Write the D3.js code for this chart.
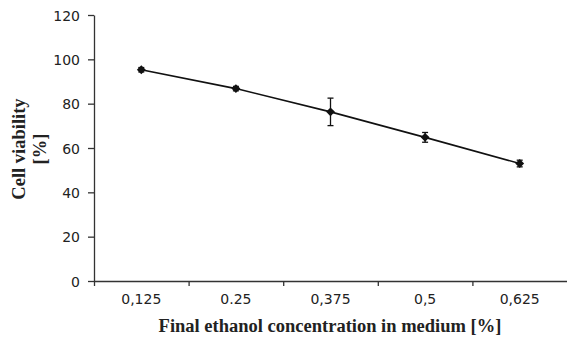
<!DOCTYPE html>
<html>
<head>
<meta charset="utf-8">
<script src="https://cdn.jsdelivr.net/npm/d3@7"></script>
<style>
  body { margin: 0; background: #fff; }
  svg { display: block; }
  .tick text { font-family: "DejaVu Sans", sans-serif; font-size: 14px; fill: #222; }
  .domain, .tick line { stroke: #333; stroke-width: 1.3; }
  .title { font-family: "Liberation Serif", "Times New Roman", serif; font-weight: bold; font-size: 18.5px; fill: #222; }
</style>
</head>
<body>
<div id="chart"></div>
<script>
// --- data ---
const concentrations = ["0,125", "0.25", "0,375", "0,5", "0,625"];
const viability = [95.3, 86.8, 76.3, 64.8, 53.0];
const errors = [1.0, 1.0, 6.2, 2.2, 1.5];
const yTicks = [0, 20, 40, 60, 80, 100, 120];

const W = 567, H = 340;
const margin = { left: 94, right: 0, top: 15, bottom: 59 };

const svg = d3.select("#chart").append("svg")
    .attr("width", W)
    .attr("height", H);

const x = d3.scaleBand()
    .domain(concentrations)
    .range([margin.left, W - margin.right]);

const y = d3.scaleLinear()
    .domain([0, 120])
    .range([H - margin.bottom, margin.top]);

// y axis
svg.append("g")
    .attr("transform", `translate(${margin.left},0)`)
    .call(d3.axisLeft(y).tickValues(yTicks).tickSize(6).tickSizeOuter(0).tickPadding(8))
    .selectAll(".tick text").attr("dy", "0.36em");

// x axis: boundary ticks between categories
const edges = d3.scaleLinear().domain([0, concentrations.length]).range(x.range());
svg.append("g")
    .attr("transform", `translate(0,${y(0)})`)
    .call(d3.axisBottom(edges).tickValues([0, 1, 2, 3, 4]).tickSize(5).tickSizeOuter(0).tickFormat(""));

// x labels
const xl = svg.append("g")
    .attr("transform", `translate(0,${y(0)})`)
    .call(d3.axisBottom(x).tickSize(0).tickPadding(13));
xl.select(".domain").remove();

// line
const line = d3.line()
    .x((d, i) => x(concentrations[i]) + x.bandwidth() / 2)
    .y(d => y(d));

svg.append("path")
    .datum(viability)
    .attr("fill", "none")
    .attr("stroke", "#111")
    .attr("stroke-width", 1.6)
    .attr("d", line);

// error bars
const eb = svg.append("g").attr("stroke", "#111").attr("stroke-width", 1.3);
viability.forEach((v, i) => {
  const cx = x(concentrations[i]) + x.bandwidth() / 2;
  const y1 = y(v + errors[i]), y2 = y(v - errors[i]);
  eb.append("line").attr("x1", cx).attr("x2", cx).attr("y1", y1).attr("y2", y2);
  eb.append("line").attr("x1", cx - 3).attr("x2", cx + 3).attr("y1", y1).attr("y2", y1);
  eb.append("line").attr("x1", cx - 3).attr("x2", cx + 3).attr("y1", y2).attr("y2", y2);
});

// markers
svg.append("g").selectAll("path")
    .data(viability)
    .join("path")
    .attr("transform", (d, i) => `translate(${x(concentrations[i]) + x.bandwidth() / 2},${y(d)})`)
    .attr("d", d3.symbol(d3.symbolDiamond2, 50))
    .attr("fill", "#111");

// titles
svg.append("text")
    .attr("class", "title")
    .attr("x", 330)
    .attr("y", 332)
    .attr("text-anchor", "middle")
    .text("Final ethanol concentration in medium [%]");

const yt = svg.append("text")
    .attr("class", "title")
    .attr("transform", "translate(0,149) rotate(-90)")
    .attr("text-anchor", "middle");
yt.append("tspan").attr("x", 0).attr("y", 25).text("Cell viability");
yt.append("tspan").attr("x", 0).attr("y", 46).text("[%]");
</script>
</body>
</html>
